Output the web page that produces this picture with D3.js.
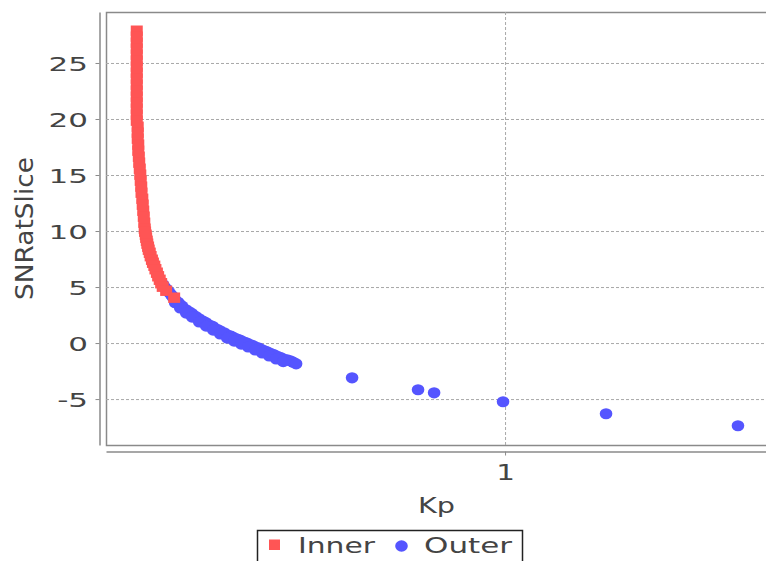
<!DOCTYPE html>
<html>
<head>
<meta charset="utf-8">
<script src="https://cdn.jsdelivr.net/npm/d3@7"></script>
<style>
  body { margin: 0; background: #fff; }
  text { font-family: "DejaVu Sans", sans-serif; fill: #444; }
</style>
</head>
<body>
<svg id="chart" width="766" height="561"></svg>
<script>
// values
const innerKp = [0.1327, 0.1327, 0.1327, 0.1327, 0.1327, 0.1327, 0.1327, 0.1327, 0.1327, 0.1327,
                 0.1327, 0.1327, 0.1327, 0.1327, 0.1327, 0.1327, 0.1334, 0.1334, 0.1334, 0.1338,
                 0.1338, 0.1342, 0.1345, 0.1349, 0.1353, 0.1356, 0.1360, 0.1362, 0.1368, 0.1371,
                 0.1375, 0.1379, 0.1383, 0.1386, 0.1389, 0.1394, 0.1397, 0.1402, 0.1406, 0.1412,
                 0.1417, 0.1425, 0.1432, 0.1442, 0.1450, 0.1461, 0.1470, 0.1482, 0.1492, 0.1505,
                 0.1517, 0.1530, 0.1559, 0.1629];
const innerSnr = [27.88, 27.35, 26.81, 26.28, 25.74, 25.21, 24.67, 24.13, 23.60, 23.06,
                  22.53, 21.99, 21.46, 20.92, 20.38, 19.85, 19.31, 18.78, 18.24, 17.71,
                  17.17, 16.63, 16.10, 15.56, 15.03, 14.49, 13.96, 13.42, 12.88, 12.35,
                  11.81, 11.28, 10.74, 10.21, 9.94, 9.67, 9.40, 9.13, 8.87, 8.60,
                  8.33, 8.06, 7.75, 7.44, 7.17, 6.90, 6.59, 6.28, 5.96, 5.65,
                  5.34, 5.03, 4.67, 4.05];
const outerKp = [0.1534, 0.1551, 0.1568, 0.1585, 0.1603, 0.1611, 0.1638, 0.1665, 0.1684, 0.1702,
                 0.1740, 0.1769, 0.1798, 0.1838, 0.1869, 0.1910, 0.1942, 0.1984, 0.2018, 0.2062,
                 0.2097, 0.2143, 0.2179, 0.2226, 0.2264, 0.2314, 0.2353, 0.2404, 0.2445, 0.2498,
                 0.2541, 0.2596, 0.2640, 0.2697, 0.2744, 0.2803, 0.2851, 0.2913, 0.2963, 0.3027,
                 0.3079, 0.3128, 0.3180,
                 0.1638, 0.1684, 0.1740, 0.1798, 0.1869, 0.1942, 0.2018, 0.2097, 0.2179, 0.2264,
                 0.2353, 0.2445, 0.2541, 0.2640, 0.2744, 0.2851, 0.2963,
                 0.4322, 0.6206, 0.6777, 0.989, 1.740, 3.587];
const outerSnr = [5.21, 4.94, 4.76, 4.54, 4.31, 4.18, 3.87, 3.64, 3.42, 3.29,
                  2.97, 2.79, 2.62, 2.35, 2.17, 1.95, 1.81, 1.59, 1.46, 1.23,
                  1.10, 0.92, 0.74, 0.61, 0.47, 0.34, 0.21, 0.07, -0.06, -0.20,
                  -0.33, -0.46, -0.60, -0.73, -0.87, -1.00, -1.14, -1.27, -1.41, -1.49,
                  -1.58, -1.71, -1.85,
                  3.60, 3.13, 2.68, 2.32, 1.88, 1.51, 1.16, 0.81, 0.44, 0.18,
                  -0.09, -0.35, -0.62, -0.89, -1.15, -1.42, -1.66,
                  -3.10, -4.17, -4.44, -5.24, -6.31, -7.38];
const yTicks = [-5, 0, 5, 10, 15, 20, 25];
const xTicks = [1];
const seriesNames = ["Inner", "Outer"];
const seriesColors = ["#ff5555", "#5555ff"];

const svg = d3.select("#chart");
const pl = 106, pr = 772, pt = 12, pb = 445;

const x = d3.scaleLog().domain([0.1121, 4.323]).range([pl, pr]);
const y = d3.scaleLinear().domain([-9.1, 29.55]).range([pb, pt]);

// plot background + frame
svg.append("rect")
  .attr("x", pl + 0.5).attr("y", pt + 0.5)
  .attr("width", pr - pl).attr("height", pb - pt)
  .attr("fill", "#fff").attr("stroke", "#8a8a8a").attr("stroke-width", 1.5);

// grid
svg.append("g")
  .attr("transform", `translate(${pl},0)`)
  .call(d3.axisLeft(y).tickValues(yTicks).tickSize(-(pr - pl)).tickFormat(""))
  .call(g => g.select(".domain").remove())
  .selectAll("line")
  .attr("stroke", "#a8a8a8").attr("stroke-dasharray", "3,2");

svg.append("g")
  .attr("transform", `translate(0,${pb})`)
  .call(d3.axisBottom(x).tickValues(xTicks).tickSize(-(pb - pt)).tickFormat(""))
  .call(g => g.select(".domain").remove())
  .selectAll("line")
  .attr("stroke", "#a8a8a8").attr("stroke-dasharray", "3,2");

// y axis
const yAxis = svg.append("g")
  .attr("transform", "translate(99.5,0)")
  .call(d3.axisLeft(y).tickValues(yTicks).tickSizeInner(4).tickSizeOuter(0)
        .tickFormat(d => String(d)));
yAxis.select(".domain").attr("stroke", "#8a8a8a").attr("stroke-width", 1.5);
yAxis.selectAll(".tick line").attr("stroke", "#8a8a8a");
yAxis.selectAll(".tick text")
  .attr("x", -7.4).attr("dy", "0.36em")
  .attr("transform", "scale(1.55,1)")
  .style("font-size", "20px").style("fill", "#444");

// x axis
const xAxis = svg.append("g")
  .attr("transform", "translate(0,451.5)")
  .call(d3.axisBottom(x).tickValues(xTicks).tickSizeInner(4).tickSizeOuter(0)
        .tickFormat(d => String(d)));
xAxis.select(".domain").attr("stroke", "#8a8a8a").attr("stroke-width", 1.5);
xAxis.selectAll(".tick line").attr("stroke", "#8a8a8a");
xAxis.selectAll(".tick text")
  .attr("y", 28.5).attr("dy", 0)
  .attr("transform", "scale(1.4,1)")
  .style("font-size", "21px").style("fill", "#444");

// axis titles
svg.append("text")
  .attr("x", 436.5).attr("y", 513)
  .attr("text-anchor", "middle")
  .attr("textLength", 37).attr("lengthAdjust", "spacingAndGlyphs")
  .style("font-size", "22px")
  .text("Kp");

svg.append("text")
  .attr("transform", "translate(33,228.5) rotate(-90)")
  .attr("text-anchor", "middle")
  .attr("textLength", 143).attr("lengthAdjust", "spacingAndGlyphs")
  .style("font-size", "25px")
  .text("SNRatSlice");

// points: outer first, inner drawn on top
const outer = outerKp.map((k, i) => ({ kp: k, snr: outerSnr[i] }));
const inner = innerKp.map((k, i) => ({ kp: k, snr: innerSnr[i] }));

const plot = svg.append("g");
plot.selectAll(".outer")
  .data(outer)
  .enter()
  .append("ellipse")
  .attr("class", "outer")
  .attr("cx", d => x(d.kp))
  .attr("cy", d => y(d.snr))
  .attr("rx", 6.3).attr("ry", 5.6)
  .attr("fill", seriesColors[1]);

plot.selectAll(".inner")
  .data(inner)
  .enter()
  .append("rect")
  .attr("class", "inner")
  .attr("x", d => x(d.kp) - 6)
  .attr("y", d => y(d.snr) - 5.2)
  .attr("width", 12).attr("height", 10.4)
  .attr("fill", seriesColors[0]);

// legend
const legend = svg.append("g");
legend.append("rect")
  .attr("x", 257.5).attr("y", 530.5)
  .attr("width", 265).attr("height", 40)
  .attr("fill", "#fff").attr("stroke", "#222").attr("stroke-width", 1.5);
legend.append("rect")
  .attr("x", 269).attr("y", 539.5).attr("width", 11).attr("height", 10.5)
  .attr("fill", seriesColors[0]);
legend.append("ellipse")
  .attr("cx", 401.5).attr("cy", 546).attr("rx", 6.3).attr("ry", 5.8)
  .attr("fill", seriesColors[1]);
legend.append("text")
  .attr("x", 298).attr("y", 553)
  .attr("textLength", 77).attr("lengthAdjust", "spacingAndGlyphs")
  .style("font-size", "22px")
  .text(seriesNames[0]);
legend.append("text")
  .attr("x", 424).attr("y", 553)
  .attr("textLength", 88).attr("lengthAdjust", "spacingAndGlyphs")
  .style("font-size", "22px")
  .text(seriesNames[1]);
</script>
</body>
</html>
